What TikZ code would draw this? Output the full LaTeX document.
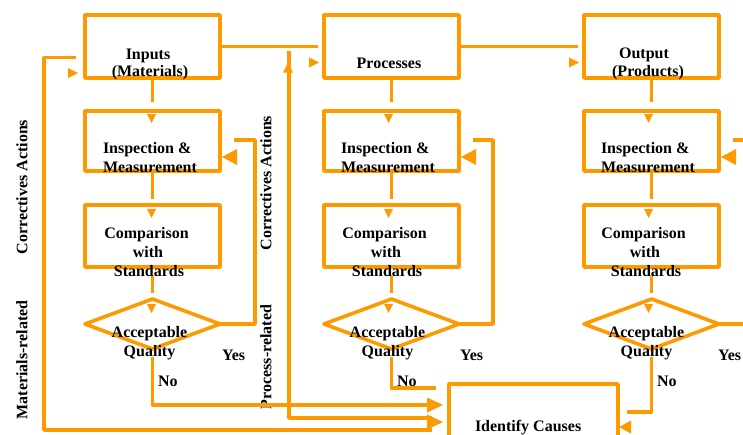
\documentclass[tikz,border=0pt]{standalone}
\usepackage{fontspec}
\setmainfont{Liberation Serif}
\usetikzlibrary{shapes.geometric,calc}
\definecolor{qorange}{RGB}{255,153,0}
\begin{document}
\begin{tikzpicture}[x=1pt,y=-1pt,
  every node/.style={inner sep=0pt,outer sep=0pt},
  boxnode/.style={draw=qorange,line width=3.6pt,line join=round,rectangle,minimum width=135pt},
  decision/.style={draw=qorange,line width=3.6pt,line join=round,diamond,minimum width=135pt,minimum height=50pt},
  conn/.style={draw=qorange,line width=3.6pt,line join=round},
  lbl/.style={font=\bfseries\fontsize{16}{19}\selectfont,anchor=base},
  side/.style={font=\bfseries\fontsize{16}{19}\selectfont,rotate=90,anchor=center},
  tdown/.pic={\fill[qorange] (-4.5,0) -- (4.5,0) -- (0,9) -- cycle;},
  tleft/.pic={\fill[qorange] (0,0) -- (15,-8) -- (15,8) -- cycle;},
  tright/.pic={\fill[qorange] (0,0) -- (-10,-5) -- (-10,5) -- cycle;},
  tup/.pic={\fill[qorange] (0,0) -- (-5,10) -- (5,10) -- cycle;},
  tbig/.pic={\fill[qorange] (0,0) -- (-16,-7.5) -- (-16,7.5) -- cycle;},
  tcause/.pic={\fill[qorange] (0,0) -- (12,-6.5) -- (12,6.5) -- cycle;}
]
\useasboundingbox (0,0) rectangle (743,434);
\clip (0,0) rectangle (743,434);

% ---- boxes ----
\node[boxnode,minimum height=63pt] (in)   at (152.5,46.5) {};
\node[boxnode,minimum height=63pt] (proc) at (391.5,46.5) {};
\node[boxnode,minimum height=63pt] (out)  at (651.5,46.5) {};
\node[boxnode,minimum height=60pt] (insp1) at (152.5,141) {};
\node[boxnode,minimum height=60pt] (insp2) at (391.5,141) {};
\node[boxnode,minimum height=60pt] (insp3) at (651.5,141) {};
\node[boxnode,minimum height=62pt] (comp1) at (152.5,236) {};
\node[boxnode,minimum height=62pt] (comp2) at (391.5,236) {};
\node[boxnode,minimum height=62pt] (comp3) at (651.5,236) {};
\node[decision] (dia1) at (152.5,324) {};
\node[decision] (dia2) at (391.5,324) {};
\node[decision] (dia3) at (651.5,324) {};
\node[boxnode,minimum width=169pt,minimum height=66pt] (causes) at (533.5,417) {};

% ---- helper corners of the feedback loops ----
\coordinate (matL) at (44,430);
\coordinate (procL) at (289,418);

% ---- texts ----
\node[lbl] (tin1) at (148,59) {Inputs};
\node[lbl] (tin2) at (150,76) {(Materials)};
\node[lbl] (tproc) at (389,68) {Processes};
\node[lbl] (tout1) at (644,58) {Output};
\node[lbl] (tout2) at (648,76) {(Products)};
\foreach \c/\xl in {1/103,2/341,3/601}{
  \node[lbl,anchor=base west] (ti\c a) at (\xl,153) {Inspection \&};
  \node[lbl,anchor=base west] (ti\c b) at (\xl,172) {Measurement};
}
\foreach \c/\xc in {1/148,2/386,3/645}{
  \node[lbl] (tc\c a) at (\xc-1.5,238) {Comparison};
  \node[lbl] (tc\c b) at (\xc,257) {with};
  \node[lbl] (tc\c c) at (\xc+1,276) {Standards};
  \node[lbl] (tq\c a) at (\xc+1.5,337) {Acceptable};
  \node[lbl] (tq\c b) at (\xc+1.5,356) {Quality};
}
\foreach \c/\xy/\xn in {1/222/158,2/460/397,3/718/657}{
  \node[lbl,anchor=base west] (yes\c) at (\xy,360) {Yes};
  \node[lbl,anchor=base west] (no\c) at (\xn,386) {No};
}
\node[lbl,anchor=base west] (tcause) at (475,431) {Identify Causes};
\node[side] (ca1) at (22,187) {Correctives Actions};
\node[side] (mr) at (22,360) {Materials-related};
\node[side] (ca2) at (266,183) {Correctives Actions};
\node[side] (pr) at (266,357) {Process-related};

% ---- main flow ----
\draw[conn] (in.east) -- ($(in.east -| proc.west)+(-6,0)$);
\draw[conn] (proc.east) -- ($(proc.east -| out.west)+(-6,0)$);
\pic at ($(in.west)+(-7,26.5)$) {tright};
\pic at ($(proc.west)+(-5,16)$) {tright};
\pic at ($(out.west)+(-5,16)$) {tright};

% ---- column flows ----
\foreach \top/\c/\dx in {in/1/-1,proc/2/-3,out/3/-3}{
  \draw[conn] (\top.south) -- ++(0,24);
  \pic at ($(insp\c.north)+(\dx,3)$) {tdown};
  \draw[conn] (insp\c.south) -- ++(0,28);
  \pic at ($(comp\c.north)+(\dx,4)$) {tdown};
  \draw[conn] ($(comp\c.south)+(0,9)$) -- ++(0,17);
  \pic at ($(dia\c.north)+(\dx,5)$) {tdown};
  \pic at ($(insp\c.east)+(2,16)$) {tleft};
}

% ---- "Yes" returns ----
\draw[conn] (dia1.east) -- ++(35,0) |- ($(insp1.east)+(14,-1)$);
\draw[conn] (dia2.east) -- ++(34,0) |- ($(insp2.east)+(14,-1)$);
\draw[conn] (dia3.east) -- ++(40,0);
\draw[conn] ($(insp3.east)+(14,-1)$) -- ++(20,0);

% ---- "No" branches ----
\draw[conn] ($(dia1.south)+(0,8)$) |- ($(causes.west)+(-19,-12)$);
\pic at ($(causes.west)+(-6,-12)$) {tbig};
\draw[conn] ($(dia2.south)+(0,8)$) |- ($(causes.north west)+(-13,4)$);
\draw[conn] ($(dia3.south)+(0,8)$) |- ($(causes.east)+(9,-5)$);
\pic at ($(causes.east)+(1,10)$) {tcause};

% ---- corrective action loops ----
\draw[conn] ($(in.west)+(-9,11)$) -| (matL) -- ($(causes.west)+(-17,13)$);
\draw[conn] ($(procL |- in.east)+(0,4)$) -- (procL) -- ($(causes.west)+(-17,1)$);
\pic at ($(causes.west)+(-6,5)$) {tbig};
\pic at ($(procL |- in.east)+(-1,16)$) {tup};
\end{tikzpicture}
\end{document}
